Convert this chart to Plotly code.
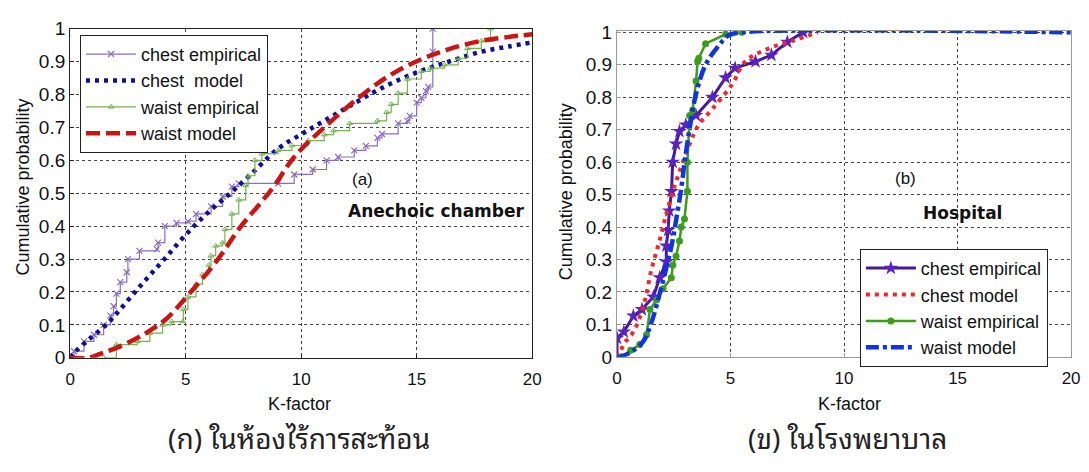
import plotly.graph_objects as go

# ---------------- data ----------------
# (a) Anechoic chamber
a_chest_emp_x = [0.0, 0.17, 0.6, 1.03, 1.45, 1.74, 1.88, 2.0, 2.17, 2.45, 2.5, 3.0, 3.75, 3.8, 4.1, 4.6, 5.1, 5.45, 6.1, 6.6, 7.0, 7.3, 9.0, 9.7, 10.5, 11.1, 11.6, 12.3, 12.8, 13.3, 13.5, 14.2, 14.6, 14.7, 15.0, 15.2, 15.4, 15.5, 15.7, 15.7]
a_chest_emp_y = [0.0, 0.02, 0.05, 0.07, 0.10, 0.128, 0.157, 0.195, 0.23, 0.26, 0.30, 0.325, 0.33, 0.35, 0.40, 0.41, 0.415, 0.437, 0.46, 0.49, 0.52, 0.53, 0.53, 0.557, 0.572, 0.60, 0.61, 0.63, 0.644, 0.668, 0.68, 0.712, 0.72, 0.735, 0.775, 0.79, 0.81, 0.823, 0.93, 1.0]

a_chest_mod_x = [0, 0.24, 0.8, 1.6, 2.2, 2.87, 3.5, 4.16, 4.94, 5.9, 7.0, 7.86, 9.0, 10.1, 11.0, 12.1, 13.5, 15.0, 16.4, 17.8, 19.0, 20]
a_chest_mod_y = [0, 0.02, 0.055, 0.103, 0.15, 0.205, 0.255, 0.306, 0.369, 0.437, 0.504, 0.56, 0.635, 0.683, 0.72, 0.765, 0.82, 0.867, 0.90, 0.93, 0.946, 0.958]

a_waist_emp_x = [1.45, 2.0, 2.9, 3.45, 4.0, 4.4, 4.88, 4.9, 5.1, 5.45, 5.73, 6.0, 6.1, 6.3, 6.6, 6.7, 7.0, 7.3, 7.6, 7.7, 8.0, 8.3, 9.0, 9.6, 10.3, 11.0, 11.4, 12.1, 13.3, 13.7, 13.9, 14.2, 14.6, 15.2, 15.6, 16.2, 16.8, 17.2, 17.8, 18.2, 18.2]
a_waist_emp_y = [0.0, 0.04, 0.05, 0.075, 0.10, 0.11, 0.11, 0.147, 0.185, 0.224, 0.253, 0.282, 0.31, 0.34, 0.35, 0.39, 0.437, 0.48, 0.524, 0.553, 0.60, 0.62, 0.63, 0.645, 0.66, 0.678, 0.69, 0.712, 0.72, 0.746, 0.77, 0.804, 0.847, 0.87, 0.88, 0.89, 0.91, 0.94, 0.963, 0.965, 1.0]

a_waist_mod_x = [0, 0.8, 1.3, 2.0, 2.9, 3.5, 4.16, 5.1, 6.3, 7.4, 8.3, 8.85, 9.7, 11.0, 12.85, 14.0, 15.3, 16.5, 17.8, 19.0, 20]
a_waist_mod_y = [0, 0.0, 0.012, 0.03, 0.06, 0.085, 0.118, 0.19, 0.29, 0.40, 0.475, 0.524, 0.61, 0.70, 0.81, 0.865, 0.91, 0.94, 0.963, 0.975, 0.983]

# (b) Hospital
b_chest_emp_x = [0.0, 0.0, 0.3, 0.72, 1.1, 1.6, 1.88, 2.17, 2.17, 2.25, 2.3, 2.4, 2.45, 2.6, 2.75, 3.03, 3.48, 4.2, 4.78, 5.2, 6.1, 6.8, 7.5, 8.2]
b_chest_emp_y = [0.0, 0.058, 0.077, 0.126, 0.146, 0.185, 0.244, 0.293, 0.342, 0.39, 0.45, 0.51, 0.60, 0.656, 0.695, 0.715, 0.744, 0.80, 0.86, 0.89, 0.91, 0.93, 0.97, 1.0]

b_chest_mod_x = [0, 0.06, 0.3, 0.72, 1.16, 1.52, 1.88, 2.17, 2.46, 2.6, 3.2, 3.6, 4.2, 5.07, 5.65, 6.67, 7.7, 8.84]
b_chest_mod_y = [0, 0.0, 0.04, 0.077, 0.156, 0.27, 0.36, 0.44, 0.51, 0.54, 0.656, 0.715, 0.764, 0.84, 0.91, 0.95, 0.973, 1.0]

b_waist_emp_x = [0.2, 0.6, 1.0, 1.3, 1.45, 1.74, 2.03, 2.39, 2.46, 2.6, 2.75, 2.83, 2.97, 3.1, 3.1, 3.2, 3.33, 3.48, 3.55, 3.6, 3.9, 4.78, 5.5]
b_waist_emp_y = [0.0, 0.02, 0.038, 0.068, 0.146, 0.175, 0.21, 0.244, 0.283, 0.31, 0.357, 0.40, 0.425, 0.51, 0.60, 0.744, 0.76, 0.85, 0.91, 0.92, 0.965, 0.994, 1.0]

b_waist_mod_x = [0, 0.14, 0.72, 1.16, 1.52, 1.88, 2.17, 2.4, 2.6, 2.83, 2.97, 3.2, 3.48, 3.9, 4.49, 4.9, 5.5, 20]
b_waist_mod_y = [0, 0.0, 0.02, 0.048, 0.107, 0.195, 0.274, 0.342, 0.42, 0.52, 0.597, 0.705, 0.81, 0.90, 0.96, 0.99, 1.0, 1.0]

x_ticks = [0, 5, 10, 15, 20]
y_ticks = [0, 0.1, 0.2, 0.3, 0.4, 0.5, 0.6, 0.7, 0.8, 0.9, 1.0]
y_ticktext = ["0", "0.1", "0.2", "0.3", "0.4", "0.5", "0.6", "0.7", "0.8", "0.9", "1"]

W, H = 1089, 472
FONT = "Liberation Sans, Arial, sans-serif"
BOLD = "DejaVu Sans, Verdana, sans-serif"
THAI = "Noto Sans Thai Looped, Noto Serif Thai, Noto Sans Thai, sans-serif"

fig = go.Figure()

# ---- left panel traces ----
fig.add_trace(go.Scatter(x=a_chest_emp_x, y=a_chest_emp_y, name="chest empirical", mode="lines+markers",
                         line=dict(color="#8a6cc4", width=1.2, shape="hv"),
                         marker=dict(symbol="x-thin", size=6, line=dict(color="#8a6cc4", width=1.2)),
                         xaxis="x", yaxis="y", legend="legend"))
fig.add_trace(go.Scatter(x=a_chest_mod_x, y=a_chest_mod_y, name="chest  model", mode="lines",
                         line=dict(color="#101090", width=4.5, dash="4px,5px", shape="spline"),
                         xaxis="x", yaxis="y", legend="legend"))
fig.add_trace(go.Scatter(x=a_waist_emp_x, y=a_waist_emp_y, name="waist empirical", mode="lines+markers",
                         line=dict(color="#74b24e", width=1.2, shape="hv"),
                         marker=dict(symbol="triangle-up-open", size=5, line=dict(color="#74b24e", width=1)),
                         xaxis="x", yaxis="y", legend="legend"))
fig.add_trace(go.Scatter(x=a_waist_mod_x, y=a_waist_mod_y, name="waist model", mode="lines",
                         line=dict(color="#cc1414", width=4.5, dash="14px,6px", shape="spline"),
                         xaxis="x", yaxis="y", legend="legend"))

# ---- right panel traces ----
fig.add_trace(go.Scatter(x=b_chest_emp_x, y=b_chest_emp_y, name="chest empirical", mode="lines+markers",
                         line=dict(color="#45199e", width=3),
                         marker=dict(symbol="star", size=11, color="#5a22c0"),
                         xaxis="x2", yaxis="y2", legend="legend2"))
fig.add_trace(go.Scatter(x=b_chest_mod_x, y=b_chest_mod_y, name="chest model", mode="lines",
                         line=dict(color="#f02828", width=4, dash="4px,5px", shape="spline"),
                         xaxis="x2", yaxis="y2", legend="legend2"))
fig.add_trace(go.Scatter(x=b_waist_emp_x, y=b_waist_emp_y, name="waist empirical", mode="lines+markers",
                         line=dict(color="#3c9c1c", width=2.5),
                         marker=dict(symbol="circle", size=7, color="#3c9c1c"),
                         xaxis="x2", yaxis="y2", legend="legend2"))
fig.add_trace(go.Scatter(x=b_waist_mod_x, y=b_waist_mod_y, name="waist model", mode="lines",
                         line=dict(color="#1034e0", width=4.5, dash="13px,4px,4px,4px", shape="spline"),
                         xaxis="x2", yaxis="y2", legend="legend2"))

def xaxis(domain, anchor, linecolor):
    return dict(domain=domain, anchor=anchor, range=[0, 20], tickvals=x_ticks,
                showline=True, mirror=True, linecolor=linecolor, linewidth=1.2,
                showgrid=True, gridcolor="#444", griddash="dot", gridwidth=1,
                ticks="inside", ticklen=4, tickcolor=linecolor, zeroline=False,
                ticklabelstandoff=6,
                tickfont=dict(family=FONT, size=17, color="#111"))

def yaxis(domain, anchor, linecolor, rng):
    return dict(domain=domain, anchor=anchor, range=rng, tickvals=y_ticks, ticktext=y_ticktext,
                showline=True, mirror=True, linecolor=linecolor, linewidth=1.2,
                showgrid=True, gridcolor="#444", griddash="dot", gridwidth=1,
                ticks="inside", ticklen=4, tickcolor=linecolor, zeroline=False,
                tickfont=dict(family=FONT, size=19, color="#111"))

fig.update_layout(
    width=W, height=H, autosize=False,
    margin=dict(l=0, r=0, t=0, b=0),
    paper_bgcolor="white", plot_bgcolor="white",
    xaxis=xaxis([66 / W, 534 / W], "y", "#222"),
    yaxis=yaxis([1 - 364 / H, 1 - 19.5 / H], "x", "#222", [0, 1]),
    xaxis2=xaxis([620 / W, 1080 / W], "y2", "#999"),
    yaxis2=yaxis([1 - 363 / H, 1 - 22 / H], "x2", "#999", [0, 1.004]),
    legend=dict(x=76 / W, y=1 - 26 / H, xanchor="left", yanchor="top",
                bordercolor="#222", borderwidth=1, bgcolor="white",
                font=dict(family=FONT, size=18, color="#111"), tracegroupgap=0,
                itemwidth=50),
    legend2=dict(x=866 / W, y=1 - 250 / H, xanchor="left", yanchor="top",
                 bordercolor="#222", borderwidth=1, bgcolor="white",
                 font=dict(family=FONT, size=18, color="#111"), tracegroupgap=0,
                 itemwidth=50),
)

ann = [
    dict(text="(a)", x=362 / W, y=1 - 177 / H, font=dict(family=FONT, size=17)),
    dict(text="<b>Anechoic chamber</b>", x=437 / W, y=1 - 210 / H, font=dict(family=BOLD, size=17)),
    dict(text="(b)", x=912 / W, y=1 - 176 / H, font=dict(family=FONT, size=17)),
    dict(text="<b>Hospital</b>", x=970 / W, y=1 - 212 / H, font=dict(family=BOLD, size=17)),
    dict(text="K-factor", x=298 / W, y=1 - 412 / H, font=dict(family=FONT, size=18)),
    dict(text="K-factor", x=855 / W, y=1 - 412 / H, font=dict(family=FONT, size=18)),
    dict(text="Cumulative probability", x=18 / W, y=1 - 185 / H, textangle=-90, font=dict(family=FONT, size=18)),
    dict(text="Cumulative probability", x=568 / W, y=1 - 190 / H, textangle=-90, font=dict(family=FONT, size=18)),
    dict(text="(ก) ในห้องไร้การสะท้อน", x=298 / W, y=1 - 446 / H, font=dict(family=THAI, size=28, color="#222")),
    dict(text="(ข) ในโรงพยาบาล", x=853 / W, y=1 - 446 / H, font=dict(family=THAI, size=28, color="#222")),
]
for a in ann:
    a.update(xref="paper", yref="paper", showarrow=False, xanchor="center", yanchor="middle")
    a["font"].setdefault("color", "#111")
fig.update_layout(annotations=ann)

fig.write_html("out.html")
